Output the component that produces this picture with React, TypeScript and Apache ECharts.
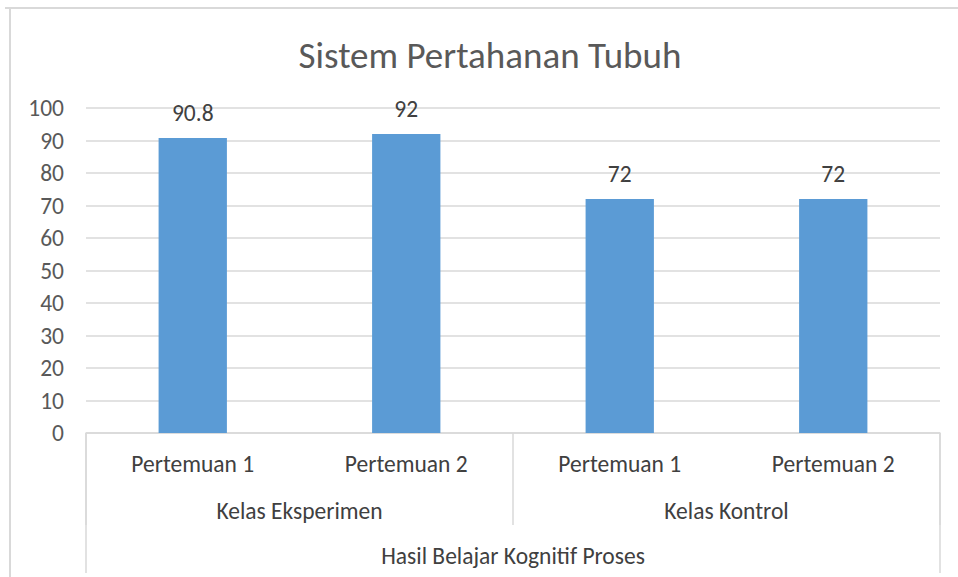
import React, { useEffect, useRef } from "react";
import * as echarts from "echarts";

const title = "Sistem Pertahanan Tubuh";
const meetings = ["Pertemuan 1", "Pertemuan 2", "Pertemuan 1", "Pertemuan 2"];
const classes = ["Kelas Eksperimen", "Kelas Kontrol"];
const topGroup = ["Hasil Belajar Kognitif Proses"];
const values = [90.8, 92, 72, 72];

const FONT = "Carlito, Lato, 'Open Sans', sans-serif";

export default function App() {
  const ref = useRef<HTMLDivElement>(null);
  useEffect(() => {
    if (!ref.current) return;
    const chart = echarts.init(ref.current, undefined, { renderer: "svg" });
    const lbl = { fontFamily: FONT, fontSize: 23.5, color: "#404040" };
    chart.setOption({
      animation: false,
      textStyle: { fontFamily: FONT },
      graphic: [
        { type: "line", shape: { x1: 5, y1: 8, x2: 958, y2: 8 }, style: { stroke: "#d9d9d9", lineWidth: 2 } },
        { type: "line", shape: { x1: 10, y1: 8, x2: 10, y2: 577 }, style: { stroke: "#d9d9d9", lineWidth: 2 } },
        {
          type: "text",
          x: 490,
          y: 55,
          style: {
            text: title,
            fontFamily: FONT,
            fontSize: 37,
            fill: "#595959",
            align: "center",
            verticalAlign: "middle",
          },
        },
      ],
      grid: { left: 86, right: 18, top: 108, bottom: 144, containLabel: false },
      xAxis: [
        {
          type: "category",
          data: meetings,
          position: "bottom",
          axisLine: { show: true, lineStyle: { color: "#d9d9d9", width: 1.5 } },
          axisTick: { show: false },
          axisLabel: { ...lbl, margin: 19, interval: 0 },
          splitLine: { show: false },
        },
        {
          type: "category",
          data: classes,
          position: "bottom",
          axisLine: { show: false },
          axisTick: { show: true, length: 92, interval: 0, lineStyle: { color: "#d9d9d9", width: 1.5 } },
          axisLabel: { ...lbl, margin: 66, interval: 0 },
          splitLine: { show: false },
        },
        {
          type: "category",
          data: topGroup,
          position: "bottom",
          axisLine: { show: false },
          axisTick: { show: true, length: 140, interval: 0, lineStyle: { color: "#d9d9d9", width: 1.5 } },
          axisLabel: { ...lbl, margin: 111, interval: 0 },
          splitLine: { show: false },
        },
      ],
      yAxis: {
        type: "value",
        min: 0,
        max: 100,
        interval: 10,
        axisLine: { show: false },
        axisTick: { show: false },
        axisLabel: { ...lbl, color: "#595959", margin: 22 },
        splitLine: { lineStyle: { color: "#d9d9d9", width: 1.5 } },
      },
      series: [
        {
          type: "bar",
          xAxisIndex: 0,
          data: values,
          barWidth: "32%",
          itemStyle: { color: "#5b9bd5" },
          label: { show: true, position: "top", distance: 13, ...lbl },
        },
      ],
    });
    return () => chart.dispose();
  }, []);
  return <div ref={ref} style={{ width: 958, height: 577, position: "absolute", left: 0, top: 0, background: "#fff" }} />;
}
